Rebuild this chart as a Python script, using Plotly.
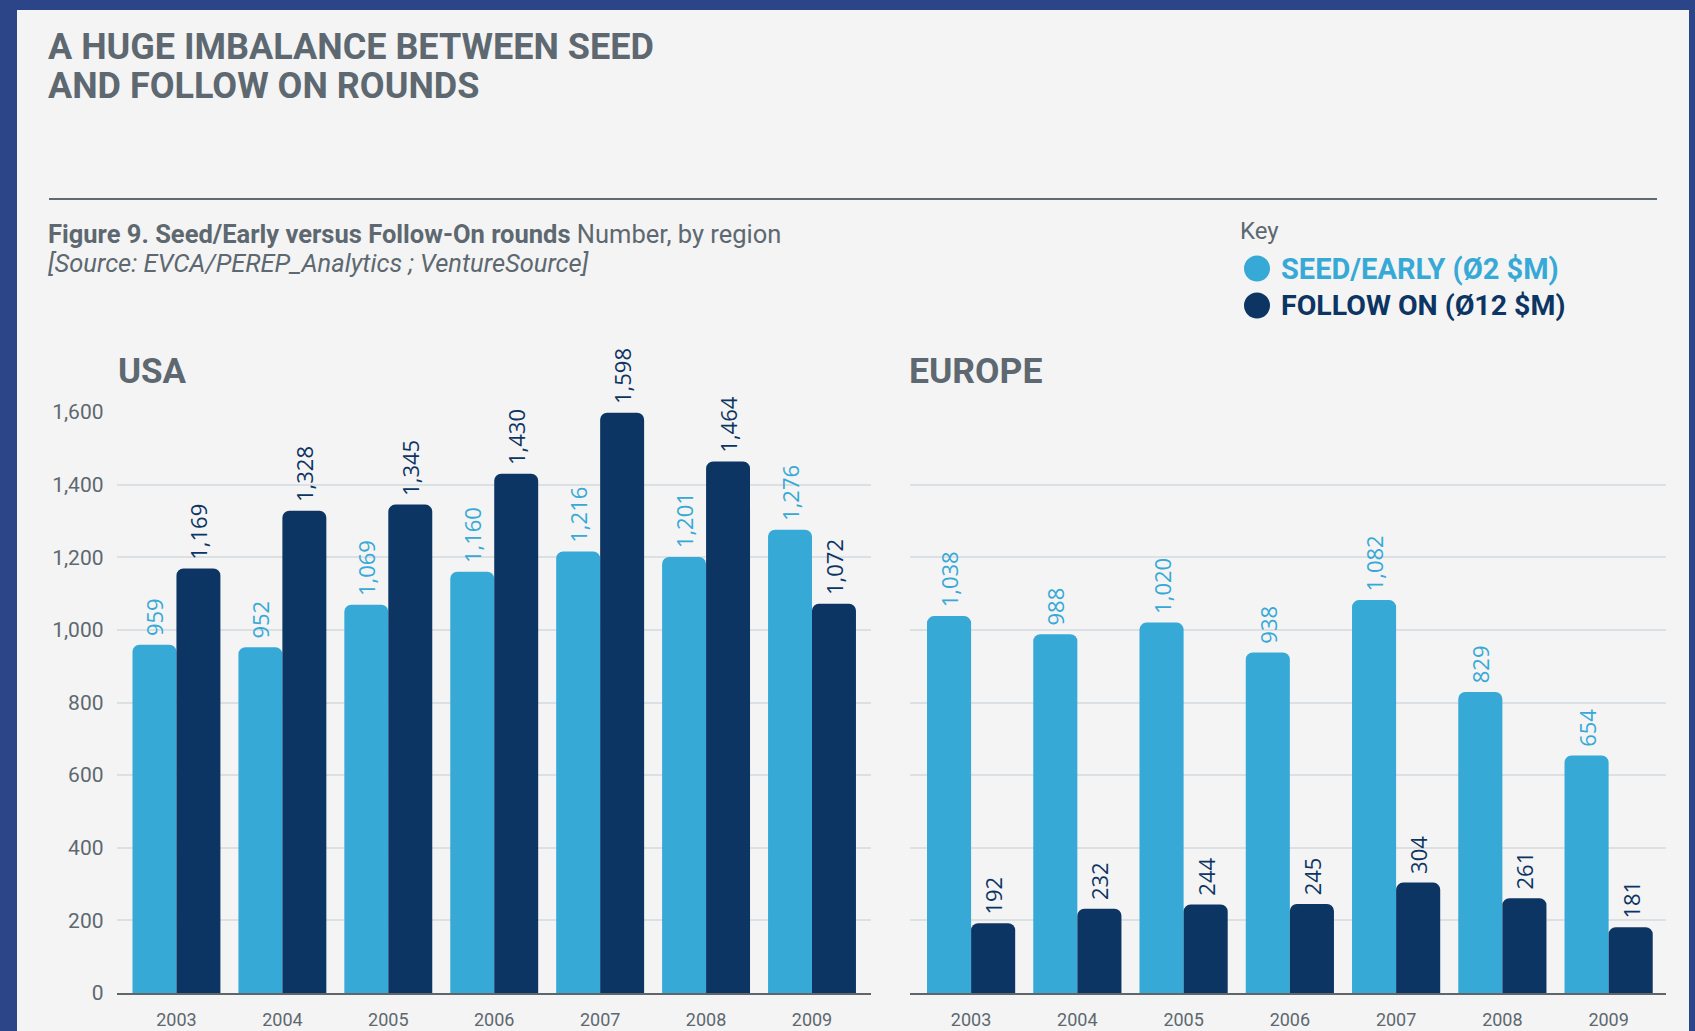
import plotly.graph_objects as go

W, H = 1695, 1031

years = ["2003", "2004", "2005", "2006", "2007", "2008", "2009"]
usa_seed = [959, 952, 1069, 1160, 1216, 1201, 1276]
usa_follow = [1169, 1328, 1345, 1430, 1598, 1464, 1072]
eu_seed = [1038, 988, 1020, 938, 1082, 829, 654]
eu_follow = [192, 232, 244, 245, 304, 261, 181]
y_ticks = [0, 200, 400, 600, 800, 1000, 1200, 1400, 1600]

SEED = "#37a9d6"
FOLLOW = "#0d3563"
GRAY = "#5d6870"
BORDER = "#2c4488"
PANEL = "#f4f4f4"
GRID = "#dbe0e4"
FONT = "Roboto"


def px(x):
    return x / W


def py(y):
    return (H - y) / H


def fmt(v):
    return " " + f"{v:,}"


fig = go.Figure()


def add_bars(seed, follow, xa, ya):
    for vals, col in ((seed, SEED), (follow, FOLLOW)):
        fig.add_trace(go.Bar(
            x=years, y=vals, xaxis=xa, yaxis=ya,
            marker=dict(color=col, line=dict(width=0), cornerradius=7),
            text=[fmt(v) for v in vals], textposition="outside",
            textangle=-90, constraintext="none", cliponaxis=False,
            textfont=dict(family="Open Sans", size=22, color=col),
            showlegend=False, hoverinfo="skip",
        ))


add_bars(usa_seed, usa_follow, "x", "y")
add_bars(eu_seed, eu_follow, "x2", "y2")

ydom = [py(993), py(412)]
common_y = dict(range=[0, 1600], tickvals=y_ticks, tickformat=",",
                showgrid=True, gridcolor=GRID, gridwidth=2,
                zeroline=False, showline=False, ticks="",
                domain=ydom, fixedrange=True, automargin=False)
common_x = dict(type="category", showgrid=False, zeroline=False,
                showline=True, linecolor="#5f6669", linewidth=2,
                ticks="", tickfont=dict(family=FONT, size=18, color=GRAY),
                ticklabelstandoff=9, automargin=False, fixedrange=True)

fig.update_layout(
    width=W, height=H,
    margin=dict(l=0, r=0, t=0, b=0, pad=0, autoexpand=False),
    paper_bgcolor=BORDER, plot_bgcolor="rgba(0,0,0,0)",
    barmode="group", bargap=0.17, bargroupgap=0,
    showlegend=False, hovermode=False,
    xaxis=dict(domain=[px(116.5), px(871)], range=[-0.566, 6.557], anchor="y", **common_x),
    xaxis2=dict(domain=[px(910), px(1666)], range=[-0.575, 6.54], anchor="y2", **common_x),
    yaxis=dict(anchor="x", showticklabels=True,
               tickfont=dict(family=FONT, size=21, color=GRAY),
               ticklabelstandoff=12, **common_y),
    yaxis2=dict(anchor="x2", showticklabels=False, **common_y),
)

shapes = [
    dict(type="rect", xref="paper", yref="paper", layer="below",
         x0=px(17), x1=px(1689), y0=py(10), y1=py(1040),
         fillcolor=PANEL, line=dict(width=0)),
    dict(type="line", xref="paper", yref="paper",
         x0=px(49), x1=px(1657), y0=py(199), y1=py(199),
         line=dict(color="#5f6b73", width=2)),
    dict(type="circle", xref="paper", yref="paper",
         x0=px(1244), x1=px(1270), y0=py(255.5), y1=py(281.5),
         fillcolor=SEED, line=dict(width=0)),
    dict(type="circle", xref="paper", yref="paper",
         x0=px(1244), x1=px(1270), y0=py(292.5), y1=py(318.5),
         fillcolor=FOLLOW, line=dict(width=0)),
]
fig.update_layout(shapes=shapes)


def note(text, x, y, size, color=GRAY, bold=False, italic=False, anchor="left"):
    t = text
    if bold:
        t = f"<b>{t}</b>"
    if italic:
        t = f"<i>{t}</i>"
    fig.add_annotation(text=t, x=px(x), y=py(y), xref="paper", yref="paper",
                       xanchor=anchor, yanchor="middle", showarrow=False,
                       font=dict(family=FONT, size=size, color=color))


note("A HUGE IMBALANCE BETWEEN SEED", 46, 47.5, 36, bold=True)
note("AND FOLLOW ON ROUNDS", 46, 86, 36, bold=True)
note("<b>Figure 9. Seed/Early versus Follow-On rounds</b> Number, by region", 46, 233.5, 25.5)
note("[Source: EVCA/PEREP_Analytics ; VentureSource]", 46, 262.5, 25.5, italic=True)
note("Key", 1238, 231, 24)
note("SEED/EARLY (Ø2 $M)", 1279, 268.5, 29, color=SEED, bold=True)
note("FOLLOW ON (Ø12 $M)", 1279, 305.5, 28.5, color=FOLLOW, bold=True)
note("USA", 116, 371.5, 35, bold=True)
note("EUROPE", 907, 371.5, 35.5, bold=True)

fig.write_html(
    "out.html",
    config={"displayModeBar": False},
    post_script="document.body.style.margin='0';document.body.style.overflow='hidden';",
)
